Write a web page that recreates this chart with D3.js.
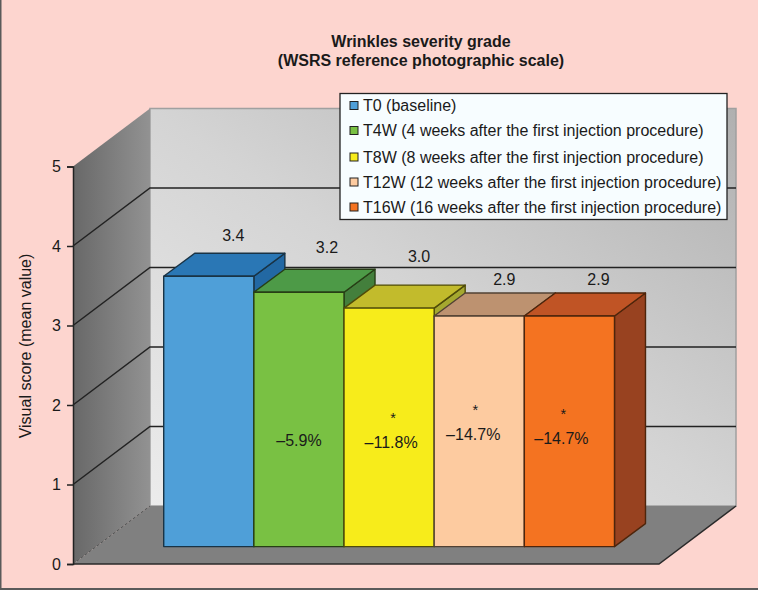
<!DOCTYPE html>
<html><head><meta charset="utf-8">
<script src="https://cdn.jsdelivr.net/npm/d3@7"></script>
<style>html,body{margin:0;padding:0;background:#fdd5cf}svg{display:block}text{font-family:"Liberation Sans",Arial,sans-serif;fill:#1a1a1a}</style>
</head><body><div id="c"></div>
<script>
const categories=["T0","T4W","T8W","T12W","T16W"];
const legendLabels=["T0 (baseline)","T4W (4 weeks after the first injection procedure)","T8W (8 weeks after the first injection procedure)","T12W (12 weeks after the first injection procedure)","T16W (16 weeks after the first injection procedure)"];
const values=[3.4,3.2,3.0,2.9,2.9];
const valueLabels=["3.4","3.2","3.0","2.9","2.9"];
const changeLabels=["","–5.9%","–11.8%","–14.7%","–14.7%"];
const significant=[false,false,true,true,true];
const yTicks=[0,1,2,3,4,5];
const frontColors=["#4f9fd8","#79c143","#f7ec1b","#fdcba0","#f47321"];
const topColors=["#2a77b5","#4d9a47","#c2bb2c","#bd9270","#c05425"];
const sideColors=["#2268a3","#437f3c","#a5a82f","#a07a5c","#984220"];
const swatchColors=["#4f9fd8","#79c143","#f7ec1b","#fdcba0","#f47321"];

const W=758,H=590;
const x0=73,xR=659,depthX=77,depthY=58;
const barDX=31,barDY=23,barInset=0.3;
const y=d3.scaleLinear().domain([0,5]).range([564,166.5]);
const band=d3.scaleBand().domain(categories).range([x0+barInset*depthX,x0+barInset*depthX+(xR-x0)]).paddingInner(0).paddingOuter(0.75);
const barBase=y(0)-barInset*depthY;
const unit=y(0)-y(1);

const svg=d3.select("#c").append("svg").attr("width",W).attr("height",H);
const defs=svg.append("defs");
function grad(id,x1,y1,x2,y2,stops){const g=defs.append("linearGradient").attr("id",id).attr("x1",x1).attr("y1",y1).attr("x2",x2).attr("y2",y2);
 stops.forEach(s=>g.append("stop").attr("offset",s[0]).attr("stop-color",s[1]));}
grad("wall",0,1,1,0,[[0,"#ececec"],[0.5,"#d4d4d4"],[1,"#b0b0b0"]]);
grad("leftw",0,0,1,0,[[0,"#686868"],[1,"#929292"]]);

svg.append("rect").attr("x",0).attr("y",0).attr("width",W).attr("height",H).attr("fill","#fdd5cf");
svg.append("path").attr("d",`M0.75,${H}V0`).attr("stroke","#5a5a5a").attr("stroke-width",1.5).attr("fill","none");
svg.append("path").attr("d",`M0,${H-1}H${W}`).attr("stroke","#5a5a5a").attr("stroke-width",2).attr("fill","none");

const bx=x0+depthX,bxR=xR+depthX;
const poly=p=>"M"+p.map(a=>a.join(",")).join("L")+"Z";
svg.append("path").attr("d",poly([[bx,y(5)-depthY],[bxR,y(5)-depthY],[bxR,y(0)-depthY],[bx,y(0)-depthY]])).attr("fill","url(#wall)").attr("stroke","#a0a0a0").attr("stroke-width",1.5);
svg.append("path").attr("d",poly([[x0,y(5)],[bx,y(5)-depthY],[bx,y(0)-depthY],[x0,y(0)]])).attr("fill","url(#leftw)");
svg.append("path").attr("d",poly([[x0,y(0)],[bx,y(0)-depthY],[bxR,y(0)-depthY],[xR,y(0)]])).attr("fill","#808080");

const grid=svg.append("g");
yTicks.filter(v=>v>0&&v<5).forEach(v=>{
 grid.append("path").attr("d",`M${x0},${y(v)}L${bx},${y(v)-depthY}H${bxR}`).attr("fill","none").attr("stroke","#222").attr("stroke-width",1.5);
});
svg.append("path").attr("d",`M${x0},${y(0)}L${bx},${y(0)-depthY}`).attr("stroke","#555").attr("stroke-dasharray","3,2").attr("fill","none");
svg.append("path").attr("d",`M${bxR},${y(0)-depthY}L${xR},${y(0)}H${x0}`).attr("stroke","#2a2a2a").attr("stroke-width",1.5).attr("fill","none");

svg.append("g").attr("transform",`translate(${x0},0)`).call(d3.axisLeft(y).tickValues(yTicks).tickSize(6).tickPadding(6).tickFormat(d3.format("d")))
 .call(g=>{g.select(".domain").attr("stroke","#222").attr("stroke-width",1.5);
 g.selectAll("line").attr("stroke","#222").attr("stroke-width",1.5);
 g.selectAll("text").style("font-size","16px").attr("fill","#1a1a1a");});

categories.forEach((c,i)=>{
 const xl=band(c),w=band.bandwidth(),xr=xl+w,yt=barBase-values[i]*unit;
 const stroke=d3.color(frontColors[i]).darker(3.2);
 const g=svg.append("g").attr("stroke",stroke).attr("stroke-width",1.4).attr("stroke-linejoin","round");
 g.append("path").attr("d",poly([[xr,yt],[xr+barDX,yt-barDY],[xr+barDX,barBase-barDY],[xr,barBase]])).attr("fill",sideColors[i]);
 g.append("path").attr("d",poly([[xl,yt],[xl+barDX,yt-barDY],[xr+barDX,yt-barDY],[xr,yt]])).attr("fill",topColors[i]);
 g.append("rect").attr("x",xl).attr("y",yt).attr("width",w).attr("height",barBase-yt).attr("fill",frontColors[i]);
});

const labelShift=[[24.5,-18],[28,-22],[30,-29],[25,-14],[29,-14]];
categories.forEach((c,i)=>{
 const cx=band(c)+band.bandwidth()/2,yt=barBase-values[i]*unit-barDY;
 svg.append("text").attr("x",cx+labelShift[i][0]).attr("y",yt+labelShift[i][1]).attr("text-anchor","middle").attr("dominant-baseline","central").style("font-size","16px").text(valueLabels[i]);
});
const changeShift=[[0,0],[0,-106],[2,-104],[-6,-112],[-8,-108]];
categories.forEach((c,i)=>{
 if(!changeLabels[i])return;
 const cx=band(c)+band.bandwidth()/2;
 svg.append("text").attr("x",cx+changeShift[i][0]).attr("y",barBase+changeShift[i][1]).attr("text-anchor","middle").attr("dominant-baseline","central").style("font-size","16px").text(changeLabels[i]);
 if(significant[i]) svg.append("text").attr("x",cx+changeShift[i][0]+2).attr("y",barBase+changeShift[i][1]-25).attr("text-anchor","middle").attr("dominant-baseline","central").style("font-size","14.5px").text("*");
});

svg.append("rect").attr("x",340).attr("y",93.5).attr("width",387).attr("height",126).attr("fill","#f7fdff").attr("stroke","#222").attr("stroke-width",1.3);
const legY=[105.5,130.5,157,182,207];
categories.forEach((c,i)=>{
 svg.append("rect").attr("x",350).attr("y",legY[i]-4).attr("width",8).attr("height",8).attr("fill",swatchColors[i]).attr("stroke","#222").attr("stroke-width",1);
 svg.append("text").attr("x",363).attr("y",legY[i]).attr("dominant-baseline","central").style("font-size","16px").text(legendLabels[i]);
});

svg.append("text").attr("x",421).attr("y",41).attr("text-anchor","middle").attr("dominant-baseline","central").style("font-size","16px").style("font-weight","bold").text("Wrinkles severity grade");
svg.append("text").attr("x",421).attr("y",60).attr("text-anchor","middle").attr("dominant-baseline","central").style("font-size","16px").style("font-weight","bold").text("(WSRS reference photographic scale)");
svg.append("text").attr("transform","translate(25,346) rotate(-90)").attr("text-anchor","middle").attr("dominant-baseline","central").style("font-size","16px").text("Visual score (mean value)");
</script></body></html>
